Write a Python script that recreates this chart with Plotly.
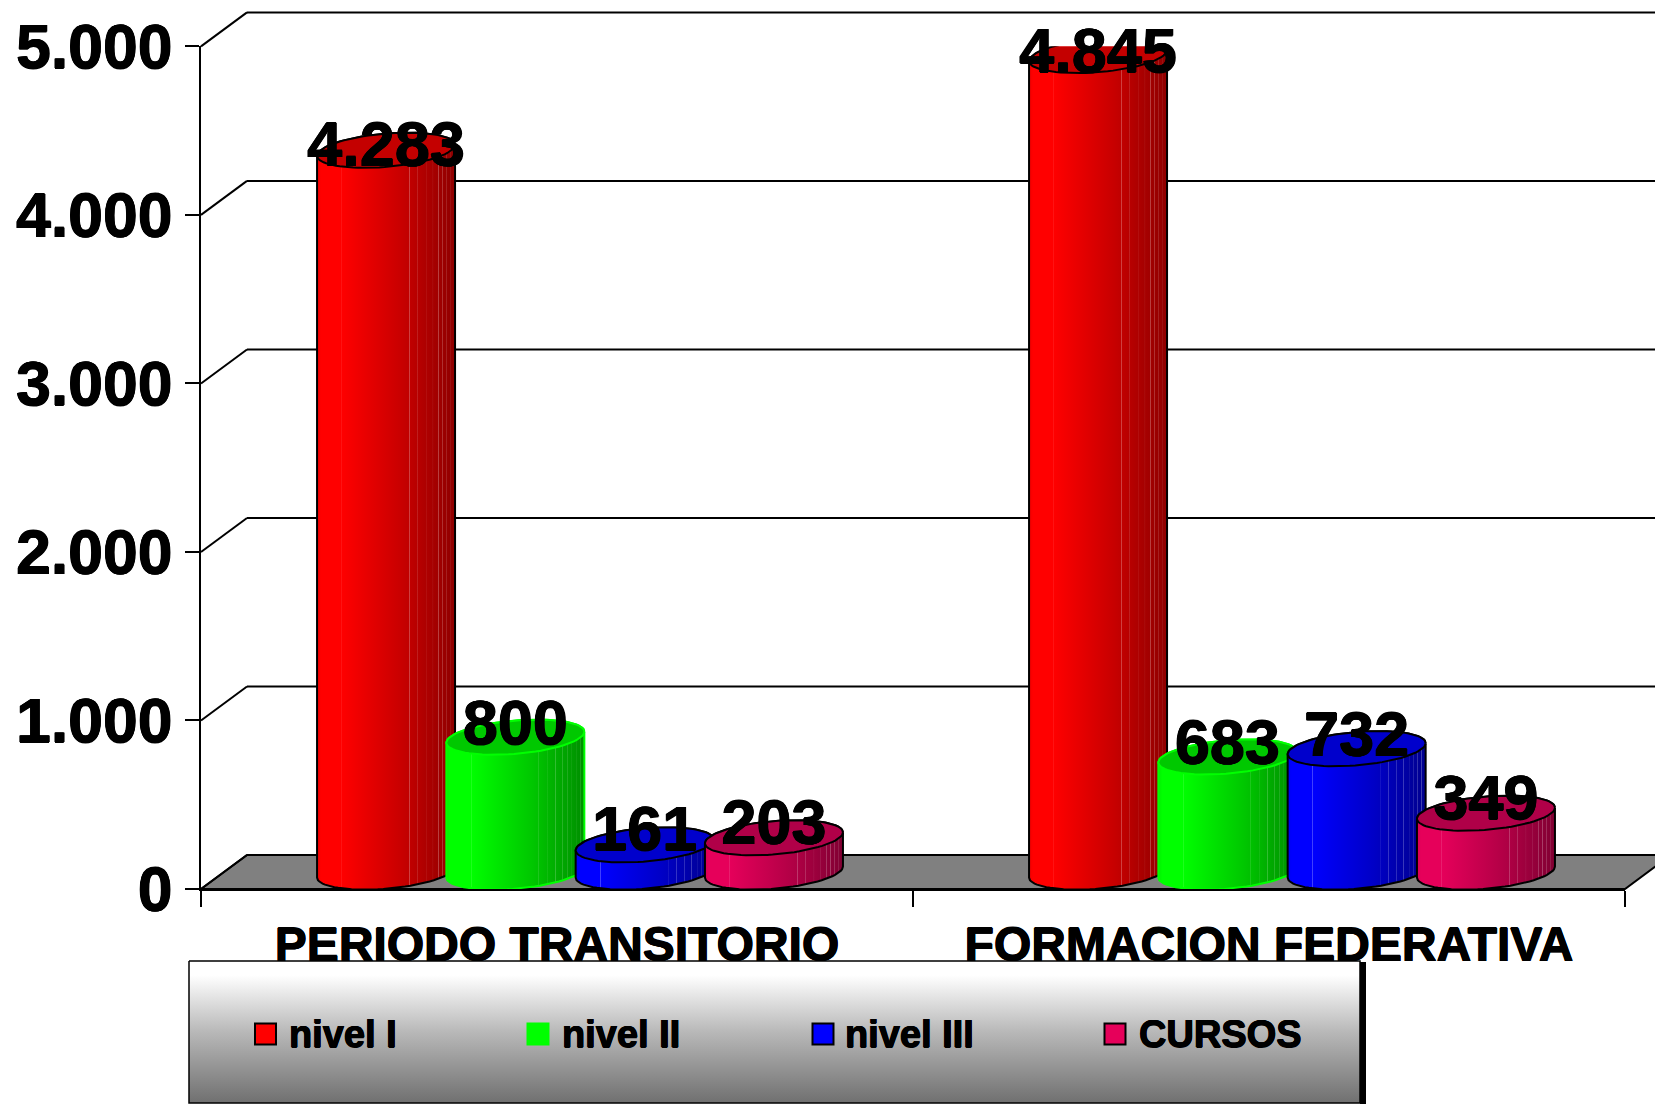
import numpy as np
import plotly.graph_objects as go

# ---- data ----
categories = ["PERIODO TRANSITORIO", "FORMACION FEDERATIVA"]
series_names = ["nivel I", "nivel II", "nivel III", "CURSOS"]
nivel_1 = [4283, 4845]
nivel_2 = [800, 683]
nivel_3 = [161, 732]
cursos = [203, 349]
y_ticks = [0, 1000, 2000, 3000, 4000, 5000]

series_values = [nivel_1, nivel_2, nivel_3, cursos]
body_rgb = [(255, 0, 0), (0, 255, 0), (0, 0, 255), (230, 0, 90)]
top_colors = ["#C40000", "#00C800", "#0000CC", "#B00048"]
line_colors = ["#000000", "#00FF00", "#000000", "#000000"]

# ---- frame geometry (page pixels) ----
W, H = 1655, 1104
X0, X1 = 201, 1625      # front plane of the x axis
Y0, Y5 = 889, 46.4      # value 0 and value 5000 on the front plane
DX, DY = 46, 34         # depth of the 3-D box
FONT = "Liberation Sans"
HEAVY = "0.6px 0 0 #000, -0.6px 0 0 #000, 0 0.5px 0 #000, 0 -0.5px 0 #000"

px_x = lambda x: x / W
px_y = lambda y: 1 - y / H
unit_x = (X1 - X0) / 2            # pixels per category
unit_y = (Y0 - Y5) / 5000         # pixels per value unit
value_px = lambda v: Y0 - v * unit_y

shapes = []
def seg(x0, y0, x1, y1, width=2):
    shapes.append(dict(type="line", xref="paper", yref="paper", layer="below",
                       x0=px_x(x0), y0=px_y(y0), x1=px_x(x1), y1=px_y(y1),
                       line=dict(color="black", width=width)))

# grey floor
floor_path = "M {} {} L {} {} L {} {} L {} {} Z".format(
    px_x(X0), px_y(Y0), px_x(X0 + DX), px_y(Y0 - DY),
    px_x(X1 + DX), px_y(Y0 - DY), px_x(X1), px_y(Y0))
shapes.append(dict(type="path", xref="paper", yref="paper", layer="below", path=floor_path,
                   fillcolor="#808080", line=dict(color="black", width=2)))
# walls: depth line + back gridline for every tick
for t in y_ticks:
    yp = value_px(t)
    seg(X0, yp, X0 + DX, yp - DY)
    seg(X0 + DX, yp - DY, X1 + DX, yp - DY)

# ---- cylinders ----
SLOT = 129.3 / unit_x
HALF = 69 / unit_x
MID_X = (DX / 2) / unit_x
MID_Y = (DY / 2) / unit_y
MINOR = 16.7 / unit_y
SHEAR = 5.5 / unit_y

def ellipse(cx, value, t):
    x = cx + HALF * np.cos(t)
    y = value + MID_Y + MINOR * np.sin(t) + SHEAR * np.cos(t)
    return x, y

FACETS = [0.18, 0.67, 0.73, 0.79, 0.84, 0.88, 0.91, 0.94, 0.97]
def shade(p):
    return float(np.interp(p, [0, 0.03, 0.17, 0.62, 1.0], [0.94, 1.0, 1.0, 0.78, 0.56]))
def colorscale(rgb):
    def col(b, mix=0.0):
        c = [min(255, v * b) * (1 - mix) + 255 * mix for v in rgb]
        return "rgb({:.0f},{:.0f},{:.0f})".format(*c)
    stops = [[0, col(shade(0))]]
    knots = [0.03, 0.17, 0.62]
    pts = sorted(knots + FACETS)
    for p in pts:
        if p in FACETS:
            stops += [[p - 0.004, col(shade(p))], [p, col(shade(p), 0.25)], [p + 0.004, col(shade(p))]]
        else:
            stops.append([p, col(shade(p))])
    stops.append([1, col(shade(1))])
    return stops

fig = go.Figure()
for s, values in enumerate(series_values):
    for c, v in enumerate(values):
        cx = c + (s - 1.5) * SLOT + MID_X
        t_top = np.linspace(0, np.pi, 40)            # back arc of the top
        t_bot = np.linspace(np.pi, 2 * np.pi, 40)    # front arc of the base
        xt, yt = ellipse(cx, v, t_top)
        xb, yb = ellipse(cx, 0, t_bot)
        bx = np.concatenate([xt, xb, xt[:1]])
        by = np.concatenate([yt, yb, yt[:1]])
        fig.add_trace(go.Scatter(
            x=bx, y=by, mode="lines", fill="toself",
            line=dict(color=line_colors[s], width=2),
            fillgradient=dict(type="horizontal", colorscale=colorscale(body_rgb[s])),
            name=series_names[s], hoverinfo="skip", showlegend=False))
        t_all = np.linspace(0, 2 * np.pi, 80)
        xe, ye = ellipse(cx, v, t_all)
        fig.add_trace(go.Scatter(
            x=xe, y=ye, mode="lines", fill="toself", fillcolor=top_colors[s],
            line=dict(color=line_colors[s], width=2),
            name=series_names[s], hoverinfo="skip", showlegend=False))

# ---- value labels ----
for s, values in enumerate(series_values):
    lab_x = [c + (s - 1.5) * SLOT + MID_X for c in range(len(values))]
    lab_y = [v + MID_Y + (10.5 - 0.0024 * v) / unit_y for v in values]
    fig.add_trace(go.Scatter(
        x=lab_x, y=lab_y, mode="text", text=["{:,d}".format(v).replace(",", ".") for v in values],
        textposition="middle center", cliponaxis=False,
        textfont=dict(family=FONT, size=63, color="black", weight=700, shadow=HEAVY),
        hoverinfo="skip", showlegend=False))

# ---- legend box (drawn over the category labels) ----
BOX = dict(l=189, r=1360, t=961, b=1103)
fig.add_trace(go.Scatter(
    x=[BOX["l"], BOX["r"], BOX["r"], BOX["l"], BOX["l"]],
    y=[BOX["t"], BOX["t"], BOX["b"], BOX["b"], BOX["t"]],
    xaxis="x2", yaxis="y2", mode="lines", fill="toself",
    line=dict(color="black", width=1.5),
    fillgradient=dict(type="vertical",
                      colorscale=[[0, "#707070"], [0.5, "#B8B8B8"], [0.9, "#FFFFFF"], [1, "#FFFFFF"]]),
    hoverinfo="skip", showlegend=False))
fig.add_trace(go.Scatter(
    x=[BOX["r"] + 3, BOX["r"] + 3], y=[BOX["t"] + 1, BOX["b"] + 1],
    xaxis="x2", yaxis="y2", mode="lines", line=dict(color="black", width=6),
    hoverinfo="skip", showlegend=False))

legend_marker_x = [265.5, 538, 823, 1115]
legend_text_x = [287, 560, 843, 1137]
annotations = []
for s, name in enumerate(series_names):
    fig.add_trace(go.Scatter(
        x=[legend_marker_x[s]], y=[1034], xaxis="x2", yaxis="y2", mode="markers",
        marker=dict(symbol="square", size=21, color="rgb({},{},{})".format(*body_rgb[s]),
                    line=dict(color=line_colors[s], width=2)),
        hoverinfo="skip", showlegend=False))
    annotations.append(dict(
        xref="x2", yref="y2", x=legend_text_x[s], y=1034, text=name, showarrow=False,
        xanchor="left", yanchor="middle", xshift=0,
        font=dict(family=FONT, size=38, color="black", weight=700, shadow=HEAVY)))

fig.update_layout(
    width=W, height=H, autosize=False,
    margin=dict(l=0, r=0, t=0, b=0, autoexpand=False),
    paper_bgcolor="white", plot_bgcolor="rgba(0,0,0,0)",
    separators=",.",
    shapes=shapes, annotations=annotations, showlegend=False,
    xaxis=dict(
        domain=[px_x(X0), px_x(X1)], range=[-0.5, 1.5], fixedrange=True,
        tickmode="array", tickvals=list(range(len(categories))), ticktext=categories,
        ticks="", showgrid=False, zeroline=False, showline=True, linecolor="black", linewidth=2,
        tickfont=dict(family=FONT, size=48, color="black", weight=700, shadow=HEAVY),
        ticklabelstandoff=12,
        minor=dict(tickmode="array", tickvals=[-0.5, 0.5, 1.5], ticks="outside", ticklen=16,
                   tickcolor="black", tickwidth=1.5, showgrid=False),
    ),
    yaxis=dict(
        domain=[px_y(Y0), px_y(Y5)], range=[0, 5000], fixedrange=True,
        tickmode="array", tickvals=y_ticks, tickformat=",d",
        ticks="outside", ticklen=14, tickcolor="black", tickwidth=2,
        showgrid=False, zeroline=False, showline=True, linecolor="black", linewidth=2,
        tickfont=dict(family=FONT, size=62.5, color="black", weight=700, shadow=HEAVY),
    ),
    xaxis2=dict(domain=[0, 1], range=[0, W], visible=False, fixedrange=True, anchor="y2"),
    yaxis2=dict(domain=[0, 1], range=[H, 0], visible=False, fixedrange=True, anchor="x2"),
)

fig.write_html("out.html", config={"displayModeBar": False},
               post_script="document.body.style.margin='0';document.body.style.overflow='hidden';")
